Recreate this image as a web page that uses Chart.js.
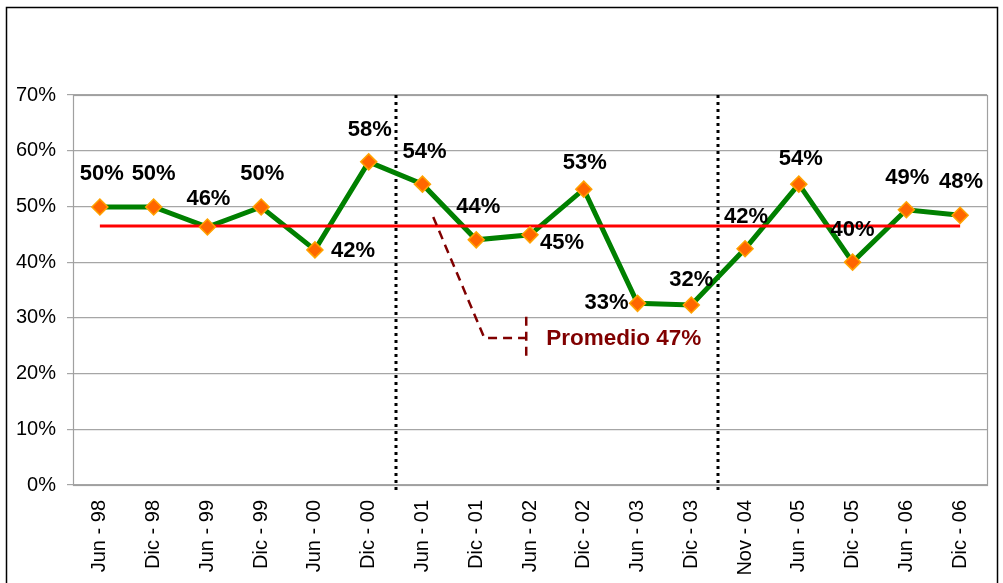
<!DOCTYPE html>
<html>
<head>
<meta charset="utf-8">
<script src="https://cdn.jsdelivr.net/npm/chart.js@4/dist/chart.umd.min.js"></script>
<style>
    body {
        margin: 0;
        background: #ffffff;
    }
</style>
</head>
<body>
<canvas id="chart" width="1003" height="583"></canvas>
<script>
// Periodos (eje x)
const periodos = ['Jun - 98', 'Dic - 98', 'Jun - 99', 'Dic - 99', 'Jun - 00', 'Dic - 00',
    'Jun - 01', 'Dic - 01', 'Jun - 02', 'Dic - 02', 'Jun - 03', 'Dic - 03',
    'Nov - 04', 'Jun - 05', 'Dic - 05', 'Jun - 06', 'Dic - 06']

// Porcentajes
const porcentajes = [49.9, 49.9, 46.3, 49.9, 42.2, 58.0, 54.0, 44.0, 44.9, 53.1,
    32.6, 32.3, 42.4, 54.0, 40.0, 49.4, 48.4]

const promedio = 46.5
const promedioTexto = 'Promedio 47%'

// Ticks del eje y
const ticksY = [0, 10, 20, 30, 40, 50, 60, 70]

// Separadores punteados (entre categorias)
const separadores = [5.5, 11.5]

const FONT = "'Liberation Sans', Arial, sans-serif"

// offsets de etiquetas [dx, dy] respecto al punto
const labelOffsets = [
    [2, -33], [0, -33], [1, -28], [1, -33], [38, 1], [1, -32],
    [2, -32], [2, -33], [32, 8], [1, -26], [-31, 0], [0, -25],
    [1, -32], [2, -25], [0, -32], [1, -32], [1, -33]
]

const marcoPlugin = {
    id: 'marco',
    beforeDraw(chart) {
        const ctx = chart.ctx
        ctx.save()
        ctx.fillStyle = '#ffffff'
        ctx.fillRect(0, 0, chart.width, chart.height)
        ctx.strokeStyle = '#000000'
        ctx.lineWidth = 1.5
        ctx.strokeRect(6.5, 7.5, 991, 620)
        ctx.restore()
    },
    beforeDatasetsDraw(chart) {
        const { ctx, chartArea, scales } = chart
        ctx.save()
        // borde del area de grafico
        ctx.strokeStyle = '#a0a0a0'
        ctx.lineWidth = 1.2
        ctx.strokeRect(chartArea.left + 0.5, chartArea.top + 0.5,
            chartArea.right - chartArea.left, chartArea.bottom - chartArea.top)
        // lineas punteadas verticales
        ctx.strokeStyle = '#000000'
        ctx.lineWidth = 3
        ctx.setLineDash([3, 4])
        separadores.forEach((s) => {
            const x = Math.round(scales.x.getPixelForValue(s))
            ctx.beginPath()
            ctx.moveTo(x, chartArea.top)
            ctx.lineTo(x, chartArea.bottom + 8)
            ctx.stroke()
        })
        ctx.restore()
    },
    afterDatasetsDraw(chart) {
        const { ctx, scales } = chart
        const x = scales.x
        const y = scales.y
        ctx.save()

        // etiquetas de datos
        ctx.font = 'bold 22px ' + FONT
        ctx.fillStyle = '#000000'
        ctx.textAlign = 'center'
        ctx.textBaseline = 'middle'
        porcentajes.forEach((v, i) => {
            const px = x.getPixelForValue(i) + labelOffsets[i][0]
            const py = y.getPixelForValue(v) + labelOffsets[i][1]
            ctx.fillText(Math.round(v) + '%', px, py)
        })

        // anotacion del promedio
        ctx.strokeStyle = '#800000'
        ctx.lineWidth = 2.5
        ctx.setLineDash([9, 6])
        ctx.beginPath()
        ctx.moveTo(x.getPixelForValue(6.2), y.getPixelForValue(48.1))
        ctx.lineTo(x.getPixelForValue(7.15), y.getPixelForValue(26.4))
        ctx.lineTo(x.getPixelForValue(7.93), y.getPixelForValue(26.4))
        ctx.stroke()
        ctx.beginPath()
        ctx.moveTo(x.getPixelForValue(7.93), y.getPixelForValue(30.2))
        ctx.lineTo(x.getPixelForValue(7.93), y.getPixelForValue(22.5))
        ctx.stroke()
        ctx.setLineDash([])

        ctx.font = 'bold 22.5px ' + FONT
        ctx.fillStyle = '#800000'
        ctx.textAlign = 'left'
        ctx.fillText(promedioTexto, x.getPixelForValue(8.3), y.getPixelForValue(26.2))
        ctx.restore()
    }
}

new Chart(document.getElementById('chart'), {
    type: 'line',
    data: {
        labels: periodos,
        datasets: [
            {
                // marcadores, encima de todo
                data: porcentajes,
                showLine: false,
                pointStyle: 'rectRot',
                pointRadius: 8,
                pointBackgroundColor: '#ff6600',
                pointBorderColor: '#ffa200',
                pointBorderWidth: 1.5,
                order: 1
            },
            {
                data: periodos.map(() => promedio),
                borderColor: '#ff0000',
                borderWidth: 3,
                pointRadius: 0,
                order: 2
            },
            {
                data: porcentajes,
                borderColor: '#008000',
                borderWidth: 5,
                pointRadius: 0,
                tension: 0,
                order: 3
            }
        ]
    },
    options: {
        responsive: false,
        devicePixelRatio: 1,
        animation: false,
        layout: {
            padding: { left: 9, top: 95, right: 16, bottom: 0 }
        },
        plugins: {
            legend: { display: false },
            tooltip: { enabled: false }
        },
        scales: {
            x: {
                offset: true,
                grid: { display: false, drawTicks: false },
                border: { display: false },
                ticks: {
                    minRotation: 90,
                    maxRotation: 90,
                    padding: 15,
                    color: '#000000',
                    font: { family: FONT, size: 20 }
                },
                afterFit(scale) {
                    scale.height = 98
                }
            },
            y: {
                min: 0,
                max: 70,
                afterBuildTicks(scale) {
                    scale.ticks = ticksY.map((v) => ({ value: v }))
                },
                grid: {
                    color: '#a6a6a6',
                    lineWidth: 1.2,
                    tickLength: 6
                },
                border: { display: false },
                ticks: {
                    padding: 11,
                    color: '#000000',
                    font: { family: FONT, size: 20 },
                    callback: (v) => v + '%'
                },
                afterFit(scale) {
                    scale.width = 64
                }
            }
        }
    },
    plugins: [marcoPlugin]
})
</script>
</body>
</html>
